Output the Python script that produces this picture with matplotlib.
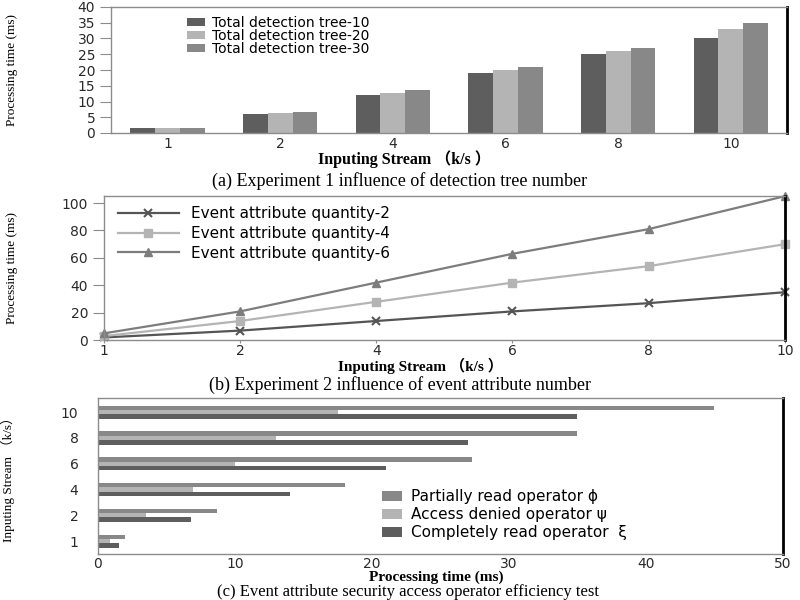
import numpy as np
import matplotlib
matplotlib.use("Agg")
import matplotlib.pyplot as plt

# panel (a) data
streams = ["1", "2", "4", "6", "8", "10"]
tree_10 = [1.5, 6.0, 12.0, 19.0, 25.0, 30.0]
tree_20 = [1.5, 6.3, 12.8, 20.0, 26.0, 33.0]
tree_30 = [1.7, 6.8, 13.8, 21.0, 27.0, 35.0]
tree_labels = ["Total detection tree-10", "Total detection tree-20", "Total detection tree-30"]

# panel (b) data
attr_2 = [2, 7, 14, 21, 27, 35]
attr_4 = [3, 14, 28, 42, 54, 70]
attr_6 = [5, 21, 42, 63, 81, 105]
attr_labels = ["Event attribute quantity-2", "Event attribute quantity-4", "Event attribute quantity-6"]

# panel (c) data
partial_read = [2.0, 8.7, 18.0, 27.3, 35.0, 45.0]
access_denied = [0.9, 3.5, 6.9, 10.0, 13.0, 17.5]
complete_read = [1.5, 6.8, 14.0, 21.0, 27.0, 35.0]
op_labels = ["Partially read operator \u03d5", "Access denied operator \u03c8", "Completely read operator  \u03be"]

DARK = "#5e5e5e"
LIGHT = "#b4b4b4"
MID = "#888888"
SPINE = "#8c8c8c"
SERIF = ["Liberation Serif", "Noto Sans CJK SC"]
SANS = "DejaVu Sans"
TICK_SIZE = 10


def style_frame(ax):
    for s in ["left", "top", "bottom"]:
        ax.spines[s].set_color(SPINE)
        ax.spines[s].set_linewidth(1.0)
    ax.spines["right"].set_color("black")
    ax.spines["right"].set_linewidth(2.0)
    ax.tick_params(axis="y", colors=SPINE, length=8, labelcolor="#2a2a2a", labelsize=TICK_SIZE)
    for lab in ax.get_yticklabels() + ax.get_xticklabels():
        lab.set_family(SANS)


def add_ylabel(ax, text, xfrac):
    ax.set_ylabel(text, family=SERIF, fontsize=9.5)
    ax.yaxis.set_label_coords(xfrac, 0.5)


fig = plt.figure(figsize=(8, 6), dpi=100)

# ---------------- (a) grouped bars
ax1 = fig.add_axes([0.139, 1 - 133 / 600, 0.845, 126 / 600])
x = np.arange(len(streams))
w = 0.22
ax1.bar(x - w, tree_10, w, color=DARK, label=tree_labels[0])
ax1.bar(x, tree_20, w, color=LIGHT, label=tree_labels[1])
ax1.bar(x + w, tree_30, w, color=MID, label=tree_labels[2])
ax1.set_xlim(-0.5, len(streams) - 0.5)
ax1.set_ylim(0, 40)
ax1.set_yticks(range(0, 41, 5))
ax1.set_xticks(x)
ax1.set_xticklabels(streams)
ax1.tick_params(axis="x", length=0, pad=3, labelsize=TICK_SIZE, labelcolor="#2a2a2a")
style_frame(ax1)
ax1.legend(loc="upper left", bbox_to_anchor=(0.095, 1.015), frameon=False,
           handlelength=1.3, handleheight=0.55, labelspacing=-0.08, handletextpad=0.5,
           borderpad=0.3, prop={"family": SANS, "size": 10})
add_ylabel(ax1, "Processing time (ms)", -0.1376)

fig.text(0.505, 1 - 159 / 600, "Inputing Stream \uff08k/s \uff09", ha="center", va="center",
         family=SERIF, fontweight="bold", fontsize=11.5)
fig.text(0.5, 1 - 181 / 600, "(a) Experiment 1 influence of detection tree number",
         ha="center", va="center", family=SERIF, fontsize=13)

# ---------------- (b) lines
ax2 = fig.add_axes([0.13, 0.433, 0.851, 0.24])
xp = np.arange(len(streams))
ax2.plot(xp, attr_2, color="#555555", lw=1.6, marker="x", ms=6, mew=1.5, label=attr_labels[0], clip_on=False)
ax2.plot(xp, attr_4, color=LIGHT, lw=1.6, marker="s", ms=6, label=attr_labels[1], clip_on=False)
ax2.plot(xp, attr_6, color="#7d7d7d", lw=1.6, marker="^", ms=6, label=attr_labels[2], clip_on=False)
ax2.set_xlim(0, len(streams) - 1)
ax2.set_ylim(0, 105)
ax2.set_yticks(range(0, 101, 20))
ax2.set_xticks(xp)
ax2.set_xticklabels(streams)
ax2.tick_params(axis="x", length=2, colors=SPINE, pad=0.5, labelsize=TICK_SIZE, labelcolor="#2a2a2a")
style_frame(ax2)
ax2.legend(loc="upper left", bbox_to_anchor=(0.0, 1.025), frameon=False,
           handlelength=4.0, labelspacing=0.3, handletextpad=0.8,
           prop={"family": SANS, "size": 11})
add_ylabel(ax2, "Processing time (ms)", -0.126)

fig.text(0.525, 1 - 366 / 600, "Inputing Stream \uff08k/s \uff09", ha="center", va="center",
         family=SERIF, fontweight="bold", fontsize=11)
fig.text(0.5, 1 - 385 / 600, "(b) Experiment 2 influence of event attribute number",
         ha="center", va="center", family=SERIF, fontsize=13)

# ---------------- (c) horizontal bars
ax3 = fig.add_axes([0.1225, 0.0767, 0.856, 0.26])
y = np.arange(len(streams))
h = 0.17
ax3.barh(y + h, partial_read, h, color=MID, label=op_labels[0])
ax3.barh(y, access_denied, h, color=LIGHT, label=op_labels[1])
ax3.barh(y - h, complete_read, h, color=DARK, label=op_labels[2])
ax3.set_xlim(0, 50)
ax3.set_ylim(-0.5, len(streams) - 0.45)
ax3.set_xticks(range(0, 51, 10))
ax3.set_yticks(y)
ax3.set_yticklabels(streams)
ax3.tick_params(axis="x", length=0, pad=2, labelsize=TICK_SIZE, labelcolor="#2a2a2a")
style_frame(ax3)
ax3.tick_params(axis="y", length=0, pad=14)
ax3.legend(loc="lower left", bbox_to_anchor=(0.395, 0.0), frameon=False,
           handlelength=1.3, handleheight=0.6, labelspacing=0.2, handletextpad=0.6,
           prop={"family": SANS, "size": 11})
add_ylabel(ax3, "Inputing Stream \uff08k/s\uff09", -0.121)

fig.text(0.545, 1 - 577 / 600, "Processing time (ms)", ha="center", va="center",
         family=SERIF, fontweight="bold", fontsize=11)
fig.text(0.51, 1 - 592 / 600, "(c) Event attribute security access operator efficiency test",
         ha="center", va="center", family=SERIF, fontsize=12)

fig.savefig("out.png", dpi=100)
